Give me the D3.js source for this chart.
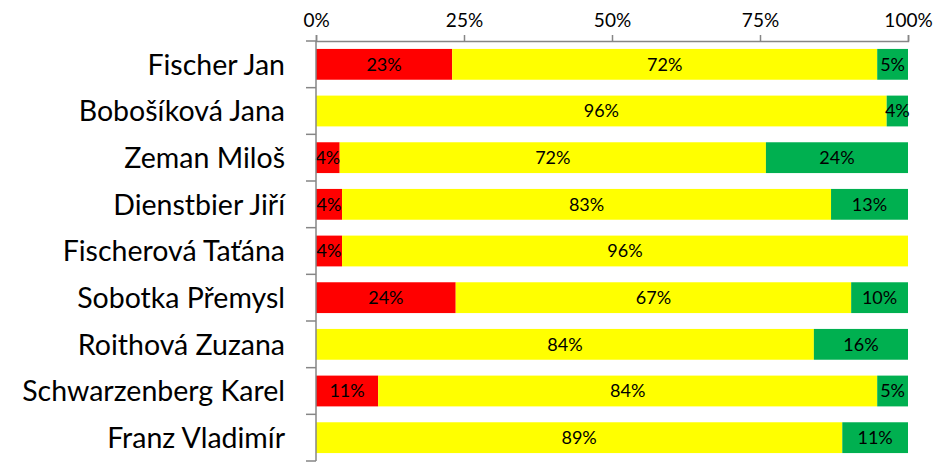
<!DOCTYPE html>
<html>
<head>
<meta charset="utf-8">
<script src="https://cdn.jsdelivr.net/npm/d3@7"></script>
<style>
  body { margin: 0; background: #fff; }
  svg { display: block; }
</style>
</head>
<body>
<div id="chart"></div>
<script>
// categories (top to bottom)
var names = ["Fischer Jan", "Bobošíková Jana", "Zeman Miloš", "Dienstbier Jiří",
  "Fischerová Taťána", "Sobotka Přemysl", "Roithová Zuzana", "Schwarzenberg Karel", "Franz Vladimír"];
// series values (percent)
var redVals    = [23.0, 0,    4.0,  4.4,  4.4,  23.6, 0,    10.5, 0];
var yellowVals = [71.8, 96.4, 72.0, 82.6, 95.6, 66.8, 84.1, 84.3, 88.9];
var greenVals  = [5.2,  3.6,  24.0, 13.0, 0,    9.6,  15.9, 5.2,  11.1];
var tickVals = [0, 0.25, 0.5, 0.75, 1];

var colors = ["#ff0000", "#ffff00", "#00b050"];
var font = "Lato, 'Open Sans', sans-serif";

var W = 942, H = 462;
var margin = { top: 41, right: 34, bottom: 1, left: 316 },
  width = W - margin.left - margin.right,
  height = H - margin.top - margin.bottom;

var svg = d3.select("#chart").append("svg")
  .attr("width", W).attr("height", H)
  .append("g")
  .attr("transform", "translate(" + margin.left + "," + margin.top + ")");

var rows = names.map(function(n, i) {
  var total = redVals[i] + yellowVals[i] + greenVals[i];
  return { name: n, vals: [redVals[i], yellowVals[i], greenVals[i]], total: total };
});

var x = d3.scaleLinear().domain([0, 1]).range([0, width]);
var y = d3.scaleBand().domain(names).range([0, height]).paddingInner(0.34).paddingOuter(0.17);

// build segments
var segs = [];
rows.forEach(function(r) {
  var acc = 0;
  r.vals.forEach(function(v, k) {
    if (v > 0) segs.push({ name: r.name, k: k, x0: acc / r.total, x1: (acc + v) / r.total, v: v });
    acc += v;
  });
});

svg.selectAll("rect.seg").data(segs).enter().append("rect")
  .attr("class", "seg")
  .attr("x", function(d) { return x(d.x0); })
  .attr("width", function(d) { return x(d.x1) - x(d.x0); })
  .attr("y", function(d) { return y(d.name); })
  .attr("height", y.bandwidth())
  .attr("fill", function(d) { return colors[d.k]; });

svg.selectAll("text.val").data(segs).enter().append("text")
  .attr("class", "val")
  .attr("x", function(d) { return x((d.x0 + d.x1) / 2); })
  .attr("y", function(d) { return y(d.name) + y.bandwidth() / 2; })
  .attr("dy", "0.36em")
  .attr("text-anchor", "middle")
  .attr("font-family", font)
  .attr("font-size", 18)
  .attr("fill", "#000")
  .text(function(d) { return Math.round(d.v) + "%"; });

// top axis
var xAxis = svg.append("g")
  .call(d3.axisTop(x).tickValues(tickVals).tickFormat(d3.format(".0%")).tickSize(6).tickPadding(8));
xAxis.select(".domain").attr("stroke", "#868686").attr("stroke-width", 1.5);
xAxis.selectAll(".tick line").attr("stroke", "#868686").attr("stroke-width", 1.5);
xAxis.selectAll(".tick text").attr("font-family", font).attr("font-size", 19).attr("fill", "#000");

// left axis with ticks between categories
var bounds = d3.range(names.length + 1).map(function(i) { return i * height / names.length; });
var yAx = svg.append("g");
yAx.append("line").attr("x1", 0).attr("x2", 0).attr("y1", 0).attr("y2", height)
  .attr("stroke", "#868686").attr("stroke-width", 1.5);
yAx.selectAll("line.tk").data(bounds).enter().append("line")
  .attr("class", "tk")
  .attr("x1", -10).attr("x2", 0)
  .attr("y1", function(d) { return d; }).attr("y2", function(d) { return d; })
  .attr("stroke", "#868686").attr("stroke-width", 1.5);

svg.selectAll("text.cat").data(names).enter().append("text")
  .attr("class", "cat")
  .attr("x", -31)
  .attr("y", function(d) { return y(d) + y.bandwidth() / 2; })
  .attr("dy", "0.36em")
  .attr("text-anchor", "end")
  .attr("font-family", font)
  .attr("font-size", 28.5)
  .attr("fill", "#000")
  .text(function(d) { return d; });
</script>
</body>
</html>
